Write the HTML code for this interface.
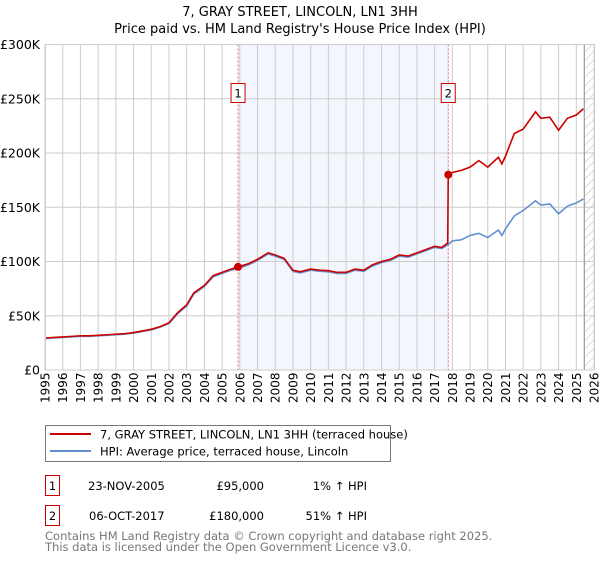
<!DOCTYPE html>
<html><head><meta charset="utf-8"><style>
body{margin:0;background:#fff;font-family:"Liberation Sans","DejaVu Sans",sans-serif;}
svg text{font-family:"DejaVu Sans","Liberation Sans",sans-serif;}
</style></head><body>
<svg width="600" height="560" xmlns="http://www.w3.org/2000/svg">
<defs><pattern id="hatch" width="6" height="6" patternUnits="userSpaceOnUse" patternTransform="rotate(45)"><line x1="0" y1="0" x2="0" y2="6" stroke="#bbb" stroke-width="1"/></pattern></defs>
<text x="300" y="16" text-anchor="middle" font-size="13">7, GRAY STREET, LINCOLN, LN1 3HH</text>
<text x="300" y="33" text-anchor="middle" font-size="13">Price paid vs. HM Land Registry's House Price Index (HPI)</text>
<g id="plot"></g>
<g>
<rect x="45.5" y="425.5" width="345" height="36" fill="#fff" stroke="#777"/>
<line x1="50" y1="434" x2="91" y2="434" stroke="#cc0000" stroke-width="2"/>
<text x="100" y="438.5" font-size="11.5">7, GRAY STREET, LINCOLN, LN1 3HH (terraced house)</text>
<line x1="50" y1="451" x2="91" y2="451" stroke="#6090d0" stroke-width="2"/>
<text x="100" y="455.5" font-size="11.5">HPI: Average price, terraced house, Lincoln</text>
</g>
<g font-size="11.5">
<rect x="45.5" y="475.5" width="14" height="20" fill="#fff" stroke="#cc0000"/>
<text x="52.5" y="490" text-anchor="middle">1</text>
<text x="88" y="490">23-NOV-2005</text>
<text x="264" y="490" text-anchor="end">£95,000</text>
<text x="367" y="490" text-anchor="end">1% ↑ HPI</text>
<rect x="45.5" y="505.5" width="14" height="20" fill="#fff" stroke="#cc0000"/>
<text x="52.5" y="520" text-anchor="middle">2</text>
<text x="89" y="520">06-OCT-2017</text>
<text x="264" y="520" text-anchor="end">£180,000</text>
<text x="367" y="520" text-anchor="end">51% ↑ HPI</text>
</g>
<text x="45" y="540" font-size="11.5" fill="#777">Contains HM Land Registry data © Crown copyright and database right 2025.</text>
<text x="45" y="551" font-size="11.5" fill="#777">This data is licensed under the Open Government Licence v3.0.</text>
</svg>
<script>
const hpiYears=[1995,1995.5,1996,1996.5,1997,1997.5,1998,1998.5,1999,1999.5,2000,2000.5,2001,2001.5,2002,2002.5,2003,2003.4,2004,2004.5,2005,2005.5,2005.9,2006.5,2007,2007.6,2008,2008.5,2009,2009.4,2010,2010.5,2011,2011.5,2012,2012.5,2013,2013.5,2014,2014.5,2015,2015.5,2016,2016.5,2017,2017.4,2017.8,2018,2018.5,2019,2019.5,2020,2020.6,2020.8,2021,2021.5,2022,2022.7,2023,2023.5,2024,2024.5,2025,2025.4];
const hpiValues=[29,29.5,30,30.5,31,31,31.5,32,32.5,33,34,35.5,37,39.5,43,52,59,70,77,86,89,92,93.5,97,101,107,105,102,91,89.5,92,91,90.5,89,89,92,91,96,99,101,105,104,107,110,113,112,116,119,120,124,126,122,129,124,130,142,147,156,152,153,144,151,154,157.6];
const redYears=[1995,1995.5,1996,1996.5,1997,1997.5,1998,1998.5,1999,1999.5,2000,2000.5,2001,2001.5,2002,2002.5,2003,2003.4,2004,2004.5,2005,2005.5,2005.9,2006.5,2007,2007.6,2008,2008.5,2009,2009.4,2010,2010.5,2011,2011.5,2012,2012.5,2013,2013.5,2014,2014.5,2015,2015.5,2016,2016.5,2017,2017.4,2017.74,2017.77,2018,2018.5,2019,2019.5,2020,2020.6,2020.8,2021,2021.5,2022,2022.7,2023,2023.5,2024,2024.5,2025,2025.4];
const redValues=[29.5,30,30.5,31,31.5,31.5,32,32.5,33,33.5,34.5,36,37.5,40,43.5,53,60,71,78,87,90,93,95,98,102,108,106,103,92,90.5,93,92,91.5,90,90,93,92,97,100,102,106,105,108,111,114,113,117,180,182,184,187,193,187,196,190,197,218,222,238,232,233,221,232,235,240.8];
const sales=[[2005.9,95],[2017.77,180]];
const yTicks=[0,50,100,150,200,250,300];
const yLabels=["£0","£50K","£100K","£150K","£200K","£250K","£300K"];
const xStart=1995,xEnd=2026;
const L=45,R=594,T=44.5,B=370;
const X=y=>L+(y-xStart)/(xEnd-xStart)*(R-L);
const Y=v=>B-v/300*(B-T);
const NS="http://www.w3.org/2000/svg";
const g=document.getElementById('plot');
function mk(tag,attrs,parent){const e=document.createElementNS(NS,tag);for(const k in attrs)e.setAttribute(k,attrs[k]);(parent||g).appendChild(e);return e;}
let e=mk('rect',{x:X(sales[0][0]),y:T,width:X(sales[1][0])-X(sales[0][0]),height:B-T,fill:'#eef3fc',opacity:0.7});


e=mk('rect',{x:X(2025.45),y:T,width:R-X(2025.45),height:B-T,fill:'url(#hatch)'});


for(let yr=xStart;yr<=xEnd;yr++){
 e=mk('line',{x1:X(yr),x2:X(yr),y1:T,y2:B,stroke:'#ccc','stroke-width':1});
 
 
 e=mk('text',{x:0,y:0,transform:`translate(${X(yr)+4.5},${B+33}) rotate(-90)`,'font-size':12});
 e.textContent=yr;
 
 
}
yTicks.forEach((v,i)=>{
 e=mk('line',{x1:L,x2:R,y1:Y(v),y2:Y(v),stroke:'#ccc','stroke-width':1});
 
 
 e=mk('text',{x:L-5,y:Y(v)+4.5,'text-anchor':'end','font-size':12.5});
 e.textContent=yLabels[i];
 
 
});
e=mk('line',{x1:X(2025.45),x2:X(2025.45),y1:T,y2:B,stroke:'#888','stroke-width':1});


sales.forEach((s,i)=>{
 e=mk('line',{x1:X(s[0]),x2:X(s[0]),y1:T,y2:B,stroke:'#e06060','stroke-width':1,'stroke-dasharray':'2,2'});
 
 
 e=mk('rect',{x:X(s[0])-7,y:83.5,width:14,height:19,fill:'#fff',stroke:'#cc0000'});
 
 
 e=mk('text',{x:X(s[0]),y:97.5,'text-anchor':'middle','font-size':11.5});
 e.textContent=String(i+1);
 
 
});
e=mk('polyline',{points:hpiYears.map((y,i)=>X(y)+','+Y(hpiValues[i])).join(' '),fill:'none',stroke:'#6090d0','stroke-width':1.6});


e=mk('polyline',{points:redYears.map((y,i)=>X(y)+','+Y(redValues[i])).join(' '),fill:'none',stroke:'#cc0000','stroke-width':1.6});


sales.forEach((s,i)=>{
 e=mk('circle',{cx:X(s[0]),cy:Y(s[1]),r:4,fill:'#cc0000'});
 
 
});
e=mk('rect',{x:L+0.5,y:T,width:R-L,height:B-T,fill:'none',stroke:'#ccc'});


</script>
</body></html>
